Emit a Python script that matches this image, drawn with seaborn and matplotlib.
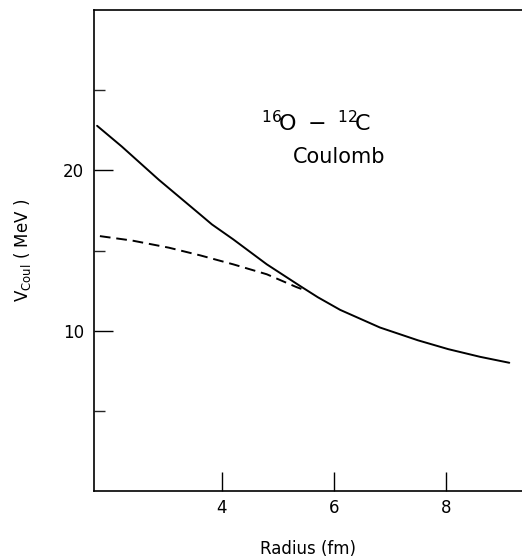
import numpy as np
import pandas as pd
import seaborn as sns
import matplotlib
matplotlib.use("Agg")
import matplotlib.pyplot as plt

# values
radius_full = [1.77, 2.21, 2.87, 3.61, 3.82, 4.20, 4.80, 5.39, 5.71, 6.11, 6.82, 7.50, 8.04, 8.61, 9.13]
v_full = [22.78, 21.49, 19.42, 17.25, 16.63, 15.70, 14.14, 12.80, 12.09, 11.30, 10.20, 9.40, 8.85, 8.37, 8.0]

radius_point = [1.82, 2.40, 3.05, 3.61, 4.20, 4.80, 5.33, 5.50]
v_point = [15.9, 15.62, 15.18, 14.70, 14.14, 13.52, 12.72, 12.50]

sns.set_theme(style="white")
plt.rcParams['font.family'] = ['DejaVu Sans']
plt.rcParams['mathtext.fontset'] = 'dejavusans'

fig = plt.figure(figsize=(5.22, 5.58), dpi=100)
ax = fig.add_axes([0.180, 0.120, 0.820, 0.862])

full = pd.DataFrame({"r": radius_full, "v": v_full})
point = pd.DataFrame({"r": radius_point, "v": v_point})

sns.lineplot(data=full, x="r", y="v", ax=ax, color="black", lw=1.4, sort=False)
sns.lineplot(data=point, x="r", y="v", ax=ax, color="black", lw=1.4, sort=False,
             dashes=False, linestyle=(0, (5.5, 3.0)))

ax.set_xlim(1.714, 9.357)
ax.set_ylim(0, 30)

ax.set_xticks([4, 6, 8])
ax.set_yticks([10, 20])
ax.set_yticks([5, 15, 25], minor=True)
ax.tick_params(axis="both", which="major", direction="in", length=14, width=1.0,
               labelsize=12, colors="black", pad=7)
ax.tick_params(axis="x", which="major", pad=6)
ax.tick_params(axis="y", which="minor", direction="in", length=8, width=1.0, left=True)
ax.tick_params(axis="x", which="major", bottom=True)
ax.tick_params(axis="y", which="major", left=True)

for side in ["left", "bottom", "top"]:
    ax.spines[side].set_color("black")
    ax.spines[side].set_linewidth(1.2)
ax.spines["right"].set_visible(False)

ax.set_xlabel("Radius (fm)", fontsize=12, labelpad=16, color="black")
ax.set_ylabel(r"V$_{\mathrm{Coul}}$ ( MeV )", fontsize=12, labelpad=22, color="black")

ax.text(5.68, 23.0, r"${}^{16}\!\mathrm{O}\ -\ {}^{12}\!\mathrm{C}$", fontsize=16,
        ha="center", va="center", color="black")
ax.text(6.09, 20.85, "Coulomb", fontsize=15, ha="center", va="center", color="black")

fig.savefig("out.png", dpi=100)
